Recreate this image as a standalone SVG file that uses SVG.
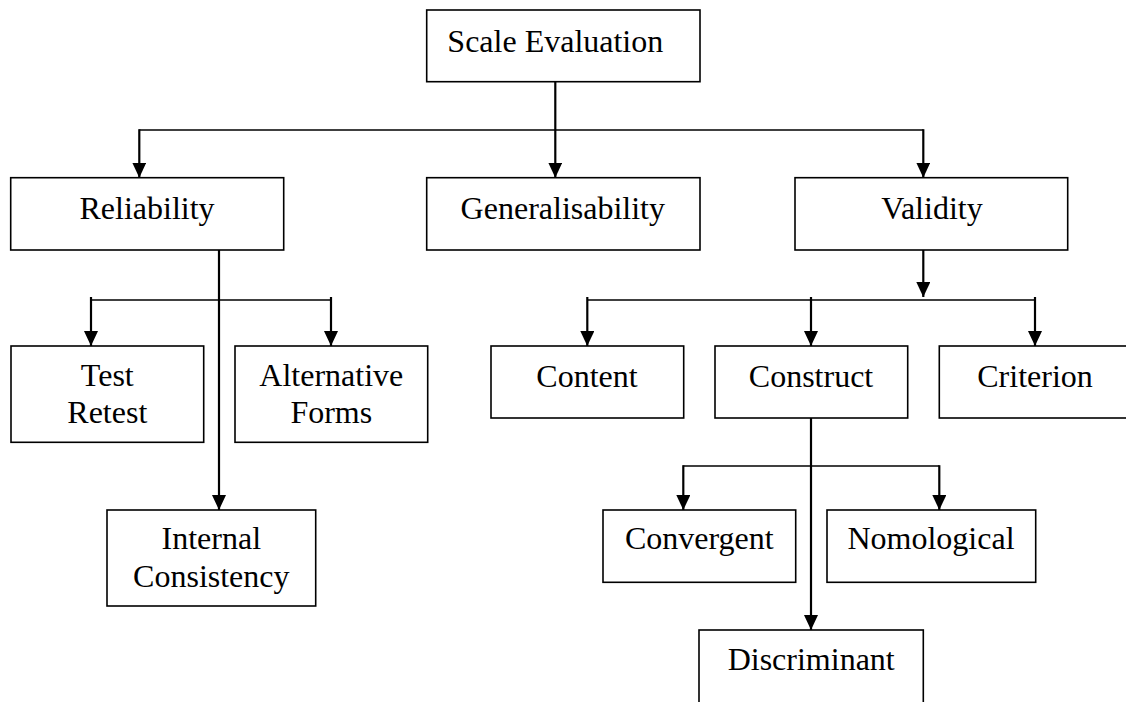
<svg xmlns="http://www.w3.org/2000/svg" width="1126" height="702" viewBox="0 0 1126 702">
<style>
  .box { fill: #ffffff; stroke: #000000; stroke-width: 1.6; }
  .lbl { font-family: "Liberation Serif", "Times New Roman", serif; font-size: 32px; fill: #000000; text-anchor: middle; }
  .h { stroke: #000000; stroke-width: 1.6; fill: none; }
  .v { stroke: #000000; stroke-width: 2.2; fill: none; }
  .va { stroke: #000000; stroke-width: 2.2; fill: none; marker-end: url(#arrow); }
</style>
<defs>
  <marker id="arrow" markerUnits="userSpaceOnUse" viewBox="0 0 15 14" refX="15" refY="7" markerWidth="15" markerHeight="14" orient="auto">
    <path d="M0,0 L15,7 L0,14 z" fill="#000000"/>
  </marker>
</defs>
<rect width="1126" height="702" fill="#ffffff"/>

<g id="connectors">
  <!-- Scale Evaluation to level 1 -->
  <line class="va" x1="555.3" y1="81.7" x2="555.3" y2="177.7"/>
  <line class="h" x1="139.3" y1="130" x2="923.3" y2="130"/>
  <line class="va" x1="139.3" y1="129.2" x2="139.3" y2="177.7"/>
  <line class="va" x1="923.3" y1="129.2" x2="923.3" y2="177.7"/>
  <!-- Reliability -->
  <line class="va" x1="219" y1="250" x2="219" y2="510"/>
  <line class="h" x1="91" y1="300" x2="331" y2="300"/>
  <line class="va" x1="91" y1="297" x2="91" y2="346"/>
  <line class="va" x1="331" y1="297" x2="331" y2="346"/>
  <!-- Validity -->
  <line class="va" x1="923.3" y1="250" x2="923.3" y2="297"/>
  <line class="h" x1="587.3" y1="300" x2="1035" y2="300"/>
  <line class="va" x1="587.3" y1="297" x2="587.3" y2="346"/>
  <line class="va" x1="811" y1="297" x2="811" y2="346"/>
  <line class="va" x1="1035" y1="297" x2="1035" y2="346"/>
  <!-- Construct -->
  <line class="va" x1="811" y1="418" x2="811" y2="630"/>
  <line class="h" x1="683.3" y1="466" x2="939.3" y2="466"/>
  <line class="va" x1="683.3" y1="465.2" x2="683.3" y2="510"/>
  <line class="va" x1="939.3" y1="465.2" x2="939.3" y2="510"/>
</g>

<g id="scale-evaluation">
  <rect class="box" x="426.7" y="10" width="273.3" height="71.7"/>
  <text class="lbl" x="555.3" y="51.7">Scale Evaluation</text>
</g>
<g id="reliability">
  <rect class="box" x="10.7" y="177.7" width="273" height="72.3"/>
  <text class="lbl" x="147" y="219.3">Reliability</text>
</g>
<g id="generalisability">
  <rect class="box" x="426.7" y="177.7" width="273.3" height="72.3"/>
  <text class="lbl" x="562.8" y="219.3">Generalisability</text>
</g>
<g id="validity">
  <rect class="box" x="795" y="177.7" width="272.7" height="72.3"/>
  <text class="lbl" x="932" y="219.3">Validity</text>
</g>
<g id="test-retest">
  <rect class="box" x="11" y="346" width="192.7" height="96.3"/>
  <text class="lbl" x="107.3" y="386">Test</text>
  <text class="lbl" x="107.3" y="423.3">Retest</text>
</g>
<g id="alternative-forms">
  <rect class="box" x="235" y="346" width="192.7" height="96.3"/>
  <text class="lbl" x="331.3" y="386">Alternative</text>
  <text class="lbl" x="331.3" y="423.3">Forms</text>
</g>
<g id="internal-consistency">
  <rect class="box" x="107" y="510" width="208.7" height="96"/>
  <text class="lbl" x="211.3" y="549.3">Internal</text>
  <text class="lbl" x="211.3" y="586.7">Consistency</text>
</g>
<g id="content">
  <rect class="box" x="491" y="346" width="192.7" height="72"/>
  <text class="lbl" x="587" y="386.7">Content</text>
</g>
<g id="construct">
  <rect class="box" x="715" y="346" width="192.7" height="72"/>
  <text class="lbl" x="811" y="386.7">Construct</text>
</g>
<g id="criterion">
  <rect class="box" x="939.3" y="346" width="192.7" height="72"/>
  <text class="lbl" x="1035" y="386.7">Criterion</text>
</g>
<g id="convergent">
  <rect class="box" x="603" y="510" width="192.7" height="72.3"/>
  <text class="lbl" x="699.3" y="549.3">Convergent</text>
</g>
<g id="nomological">
  <rect class="box" x="827" y="510" width="208.7" height="72.3"/>
  <text class="lbl" x="931" y="549.3">Nomological</text>
</g>
<g id="discriminant">
  <rect class="box" x="699" y="630" width="224.3" height="96"/>
  <text class="lbl" x="811.2" y="670">Discriminant</text>
</g>
</svg>
